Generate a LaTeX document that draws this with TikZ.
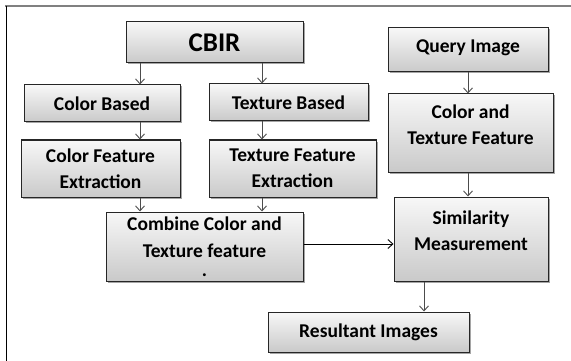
\documentclass[tikz,border=0pt]{standalone}
\usepackage{fontspec}
\setmainfont{Carlito}
\usetikzlibrary{arrows.meta,shadows}
\tikzset{>={Straight Barb[length=5pt,width=9pt]}}
\tikzset{
    box/.style={draw=black!85, line width=1pt, align=center, inner sep=2pt,
        top color=gray!6, bottom color=gray!42,
        drop shadow={shadow xshift=1.5pt, shadow yshift=-1.5pt, fill=black!70, opacity=0.5},
        font=\fontsize{19.5}{26}\selectfont\bfseries},
    link/.style={->, draw=black!70, line width=0.9pt}
}

\begin{document}
\begin{tikzpicture}[x=1pt,y=-1pt]
        \useasboundingbox (0,0) rectangle (571,361);
        \draw[gray, line width=1.5pt] (5,6) -- (571,6);
        \draw[black, line width=1pt] (6,6) -- (6,361);

        \node[box, minimum width=177pt, minimum height=41pt, font=\fontsize{27}{30}\selectfont\bfseries] (cbir) at (214.5,42.5) {CBIR};
        \node[box, minimum width=156pt, minimum height=37pt] (colbased) at (102,103.5) {Color Based};
        \node[box, minimum width=159pt, minimum height=37pt] (texbased) at (288.5,102.5) {Texture Based};
        \node[box, minimum width=159pt, minimum height=57pt] (colfeat) at (100.5,168.5) {Color Feature\\Extraction};
        \node[box, minimum width=167pt, minimum height=57pt] (texfeat) at (292.5,168.5) {Texture Feature\\Extraction};
        \node[box, minimum width=197pt, minimum height=69pt, font=\fontsize{19.5}{27}\selectfont\bfseries]
            (combine) at (204.5,246.5) {Combine Color and\\Texture feature\\[-8pt].};
        \node[box, minimum width=160pt, minimum height=44pt, text depth=8pt] (query) at (468,50) {Query Image};
        \node[box, minimum width=165pt, minimum height=78pt, text depth=17pt] (ctfeat) at (470.5,133) {Color and\\Texture Feature};
        \node[box, minimum width=154pt, minimum height=84pt, text depth=17pt] (simil) at (471,239) {Similarity\\Measurement};
        \node[box, minimum width=201pt, minimum height=40pt] (result) at (368.5,332) {Resultant Images};

        \draw[link] (cbir.south -| 140,0) -- (colbased.north -| 140,0);
        \draw[link] (cbir.south -| 262,0) -- (texbased.north -| 262,0);
        \draw[link] (colbased.south -| 140,0) -- (colfeat.north -| 140,0);
        \draw[link] (texbased.south -| 262,0) -- (texfeat.north -| 262,0);
        \draw[link] (colfeat.south -| 140,0) -- (combine.north -| 140,0);
        \draw[link] (texfeat.south -| 262,0) -- (combine.north -| 262,0);
        \draw[link] (query.south -| 468,0) -- (ctfeat.north -| 468,0);
        \draw[link] (ctfeat.south -| 468,0) -- (simil.north -| 468,0);
        \draw[link, draw=black] (combine.east |- 0,244) -- (simil.west |- 0,244);
        \draw[link] (simil.south -| 424,0) -- (result.north -| 424,0);
    \end{tikzpicture}
\end{document}
